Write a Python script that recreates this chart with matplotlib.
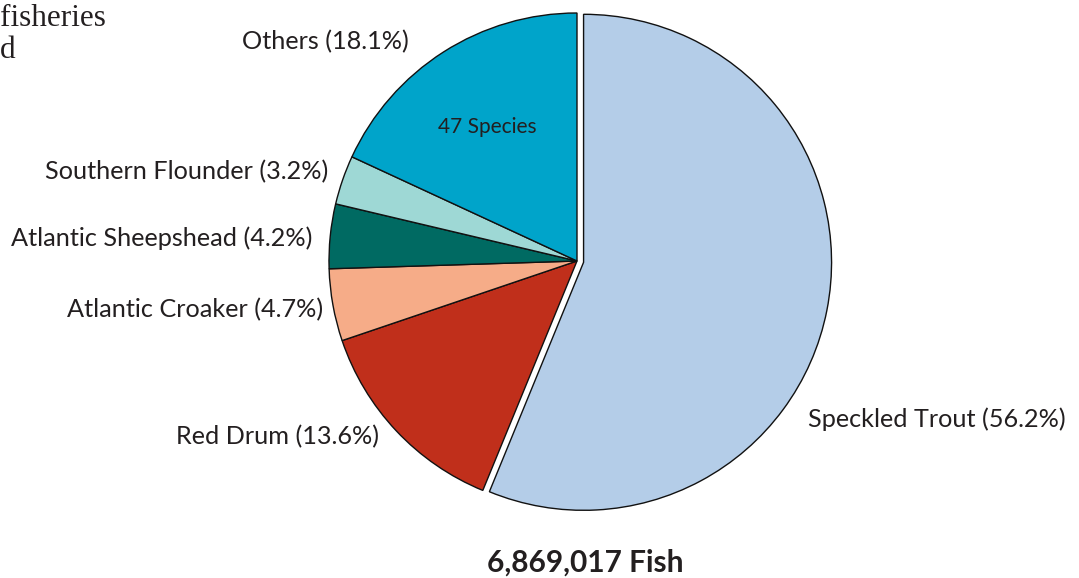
import matplotlib
matplotlib.use("Agg")
import matplotlib.pyplot as plt

# catch composition, share of fish landed
species = ["Speckled Trout", "Red Drum", "Atlantic Croaker",
           "Atlantic Sheepshead", "Southern Flounder", "Others"]
shares = [56.2, 13.6, 4.7, 4.2, 3.2, 18.1]
colors = ["#b4cde8", "#c02f1b", "#f6ac88", "#006a62", "#9ed8d5", "#00a4ca"]
explode = [0.027, 0, 0, 0, 0, 0]
total_text = "6,869,017 Fish"
others_note = "47 Species"

W, H = 1079, 578
fig = plt.figure(figsize=(W / 100, H / 100), dpi=100)
ax = fig.add_axes([0, 0, 1, 1])

cx, cy, R = 577, H - 261, 248
# pie explode is in data units here, so scale by radius
ax.pie(shares, colors=colors, explode=[e * R for e in explode], startangle=90,
       counterclock=False, center=(cx, cy), radius=R, frame=True,
       wedgeprops=dict(edgecolor="#111111", linewidth=1.0))
ax.set_xlim(0, W)
ax.set_ylim(0, H)
ax.set_aspect("equal")
ax.axis("off")

fam = ["Lato", "DejaVu Sans"]
txt = dict(fontsize=18.2, color="#231f20", family=fam)
# label spots (pixel, y from top) and alignment
spots = {
    "Speckled Trout": (808, 419, "left"),
    "Red Drum": (379, 437, "right"),
    "Atlantic Croaker": (323, 310, "right"),
    "Atlantic Sheepshead": (312, 238, "right"),
    "Southern Flounder": (328, 172, "right"),
    "Others": (409, 42, "right"),
}
for name, pct in zip(species, shares):
    x, y, ha = spots[name]
    ax.text(x, H - y, "%s (%.1f%%)" % (name, pct), ha=ha, va="center", **txt)

ax.text(487, H - 127, others_note, ha="center", va="center",
        fontsize=15, color="#231f20", family=fam)
ax.text(585, H - 563, total_text, ha="center", va="center", fontsize=21.5,
        fontweight="bold", color="#231f20", family=fam)

# caption clipped by the page edge
ax.text(0, H - 19, "fisheries", ha="left", va="center", fontsize=22.5,
        color="#231f20", family="Liberation Serif")
ax.text(0, H - 50, "d", ha="left", va="center", fontsize=22.5,
        color="#231f20", family="Liberation Serif")

fig.savefig("out.png", dpi=100)
